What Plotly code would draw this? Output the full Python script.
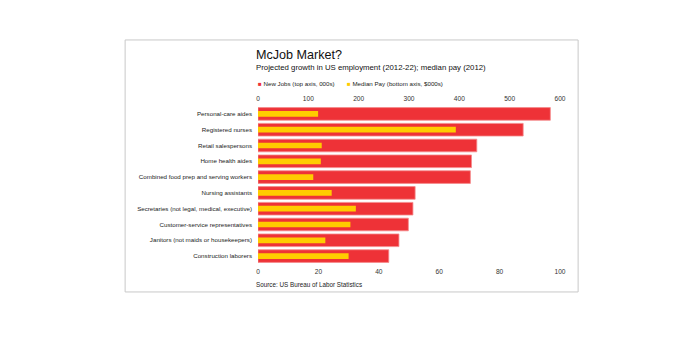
import plotly.graph_objects as go

# Occupations with the largest projected job growth, 2012-22
occupations = [
    "Personal-care aides",
    "Registered nurses",
    "Retail salespersons",
    "Home health aides",
    "Combined food prep and serving workers",
    "Nursing assistants",
    "Secretaries (not legal, medical, executive)",
    "Customer-service representatives",
    "Janitors (not maids or housekeepers)",
    "Construction laborers",
]
new_jobs = [580.8, 526.8, 434.7, 424.2, 421.9, 312.2, 307.8, 298.7, 280.0, 259.8]  # 000s
median_pay = [19.9, 65.5, 21.1, 20.8, 18.3, 24.4, 32.4, 30.6, 22.3, 30.0]  # $000s

top_ticks = [0, 100, 200, 300, 400, 500, 600]
bottom_ticks = [0, 20, 40, 60, 80, 100]

RED = "#EE3237"
YELLOW = "#FFCC00"
FONT = "Liberation Sans, Arial, sans-serif"

fig = go.Figure()
# New jobs on the top axis (primary x axis placed at the top)
fig.add_trace(go.Bar(
    y=occupations, x=new_jobs, orientation="h", xaxis="x",
    marker=dict(color=RED, line=dict(color="#F58A8C", width=0.8)),
    width=0.8, name="New Jobs (top axis, 000s)", showlegend=False,
))
# Median pay on the bottom axis, drawn over the red bars
fig.add_trace(go.Bar(
    y=occupations, x=median_pay, orientation="h", xaxis="x2",
    marker=dict(color=YELLOW, line=dict(width=0)),
    width=0.36, name="Median Pay (bottom axis, $000s)", showlegend=False,
))

axis_font = dict(family=FONT, size=6.6, color="#333333")
fig.update_layout(
    width=692, height=338,
    margin=dict(l=258, r=132, t=106, b=74),
    paper_bgcolor="white", plot_bgcolor="white",
    barmode="overlay",
    xaxis=dict(range=[0, 600], tickvals=top_ticks, side="top",
               showgrid=False, zeroline=False, showline=False, ticks="",
               tickfont=axis_font, fixedrange=True, ticklabelstandoff=3),
    xaxis2=dict(range=[0, 100], tickvals=bottom_ticks, overlaying="x",
                side="bottom", showgrid=False, zeroline=False, showline=False,
                ticks="", tickfont=axis_font, fixedrange=True,
                ticklabelstandoff=2),
    yaxis=dict(autorange="reversed", showgrid=False, zeroline=False,
               ticks="", tickfont=dict(family=FONT, size=6.2, color="#222222"),
               ticklabelstandoff=5),
    bargap=0.2,
)

# Frame around the graphic
fig.add_shape(type="rect", xref="paper", yref="paper",
              x0=-0.440, x1=1.060, y0=-0.177, y1=1.418,
              line=dict(color="#C8C8C8", width=1), fillcolor="rgba(0,0,0,0)",
              layer="below")

title_font = dict(family=FONT, color="#111111")
fig.add_annotation(text="McJob Market?", xref="paper", yref="paper",
                   x=-0.012, y=1.32, xanchor="left", yanchor="middle",
                   showarrow=False, font=dict(size=12.6, **title_font))
fig.add_annotation(text="Projected growth in US employment (2012-22); median pay (2012)",
                   xref="paper", yref="paper", x=-0.012, y=1.245,
                   xanchor="left", yanchor="middle", showarrow=False,
                   font=dict(size=7.8, **title_font))

# Legend keys
legend_items = [("New Jobs (top axis, 000s)", RED, -0.008),
                ("Median Pay (bottom axis, $000s)", YELLOW, 0.288)]
for label, color, xpos in legend_items:
    fig.add_annotation(text=f"<span style='color:{color}'>■</span> {label}",
                       xref="paper", yref="paper", x=xpos, y=1.14,
                       xanchor="left", yanchor="middle", showarrow=False,
                       font=dict(family=FONT, size=6.2, color="#222222"))

fig.add_annotation(text="Source: US Bureau of Labor Statistics",
                   xref="paper", yref="paper", x=-0.012, y=-0.13,
                   xanchor="left", yanchor="middle", showarrow=False,
                   font=dict(family=FONT, size=6.3, color="#222222"))

fig.write_html("out.html")
